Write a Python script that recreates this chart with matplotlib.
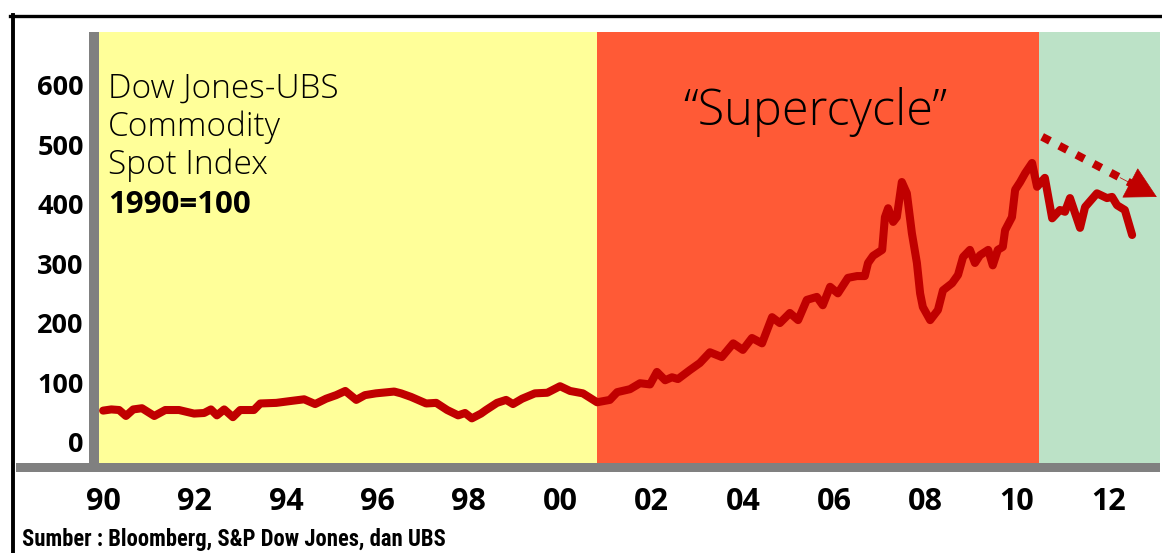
import matplotlib
matplotlib.use("Agg")
import matplotlib.pyplot as plt
from matplotlib.lines import Line2D
from matplotlib.patches import Rectangle

# Dow Jones-UBS Commodity Spot Index
years = [1990.00, 1990.18, 1990.35, 1990.50, 1990.66, 1990.85, 1991.12, 1991.36,
         1991.66, 1991.99, 1992.21, 1992.36, 1992.49, 1992.65, 1992.84, 1993.00,
         1993.30, 1993.44, 1993.79, 1994.09, 1994.40, 1994.64, 1994.88, 1995.10,
         1995.30, 1995.54, 1995.73, 1995.97, 1996.37, 1996.52, 1996.74, 1997.07,
         1997.29, 1997.53, 1997.77, 1997.92, 1998.07, 1998.27, 1998.38, 1998.62,
         1998.82, 1998.97, 1999.17, 1999.45, 1999.72, 2000.00, 2000.22, 2000.50,
         2000.81, 2001.09, 2001.25, 2001.53, 2001.75, 2001.97, 2002.12, 2002.30,
         2002.45, 2002.58, 2002.84, 2003.06, 2003.28, 2003.54, 2003.79, 2004.00,
         2004.20, 2004.42, 2004.64, 2004.81, 2005.03, 2005.21, 2005.40, 2005.62,
         2005.75, 2005.91, 2006.08, 2006.30, 2006.50, 2006.67, 2006.74, 2006.85,
         2007.05, 2007.11, 2007.18, 2007.29, 2007.37, 2007.48, 2007.59, 2007.70,
         2007.81, 2007.88, 2007.94, 2008.10, 2008.27, 2008.38, 2008.58, 2008.71,
         2008.82, 2008.97, 2009.08, 2009.19, 2009.37, 2009.47, 2009.58, 2009.69,
         2009.74, 2009.89, 2009.96, 2010.07, 2010.18, 2010.33, 2010.44, 2010.61,
         2010.77, 2010.94, 2011.05, 2011.16, 2011.38, 2011.49, 2011.75, 2011.97,
         2012.08, 2012.19, 2012.36, 2012.52]
index = [53, 55, 54, 44, 55, 57, 44, 54,
         54, 48, 49, 55, 45, 55, 42, 54,
         54, 65, 66, 69, 72, 64, 73, 79,
         86, 71, 79, 82, 85, 82, 76, 65,
         66, 54, 45, 49, 40, 48, 54, 66,
         71, 64, 73, 82, 83, 94, 86, 82,
         67, 71, 84, 89, 99, 97, 118, 104,
         109, 106, 121, 133, 151, 143, 166, 155,
         175, 166, 210, 200, 217, 205, 239, 244,
         230, 261, 250, 276, 279, 279, 301, 313,
         323, 378, 393, 370, 378, 437, 418, 351,
         301, 250, 227, 205, 222, 255, 267, 281,
         311, 323, 301, 314, 323, 297, 323, 328,
         356, 378, 424, 437, 452, 469, 429, 444,
         376, 390, 387, 410, 360, 395, 418, 410,
         412, 398, 390, 348]

# phases of the commodity cycle
phase_edges = [1989.91, 2000.81, 2010.48, 2013.13]
phase_colors = ["#FFFF99", "#FF5A36", "#BCE2C7"]

x_ticks = list(range(1990, 2013, 2))
x_labels = ["90", "92", "94", "96", "98", "00", "02", "04", "06", "08", "10", "12"]
y_ticks = [0, 100, 200, 300, 400, 500, 600]

# downward trend arrow (start, tip)
arrow_start = (2010.55, 513)
arrow_tip = (2013.06, 412)

W, H = 1162, 553
fig = plt.figure(figsize=(W / 100, H / 100), dpi=100)
fig.patch.set_facecolor("white")


def fx(x):
    return x / W


def fy(y):
    return 1 - y / H


ax = fig.add_axes([fx(99), fy(463), (1160 - 99) / W, (463 - 32) / H])
ax.set_xlim(phase_edges[0], phase_edges[-1])
ax.set_ylim(-35, 689)

for i, c in enumerate(phase_colors):
    ax.axvspan(phase_edges[i], phase_edges[i + 1], color=c, lw=0, zorder=0)

ax.plot(years, index, color="#C00000", lw=5.8, solid_joinstyle="round",
        solid_capstyle="round", zorder=3)

for s in ax.spines.values():
    s.set_visible(False)

bold = ["Open Sans", "DejaVu Sans"]
ax.set_xticks(x_ticks)
ax.set_xticklabels(x_labels, fontsize=22, fontweight="bold", family=bold)
ax.set_yticks(y_ticks)
ax.set_yticklabels([str(v) for v in y_ticks], fontsize=19.5, fontweight="bold",
                   family=bold)
ax.tick_params(axis="x", length=0, pad=17)
ax.tick_params(axis="y", length=0, pad=11)

# trend arrow: dotted shaft + solid head
dx = arrow_tip[0] - arrow_start[0]
dy = arrow_tip[1] - arrow_start[1]
ax.plot([arrow_start[0], arrow_start[0] + dx * 0.78],
        [arrow_start[1], arrow_start[1] + dy * 0.78], color="#C00000",
        lw=5.8, dashes=(1.1, 1.3), dash_capstyle="butt", zorder=4)
ax.annotate("", xy=arrow_tip, xytext=(arrow_start[0] + dx * 0.68, arrow_start[1] + dy * 0.68),
            arrowprops=dict(arrowstyle="-|>,head_length=2.1,head_width=1.15",
                            mutation_scale=10, color="#C00000", lw=0.5,
                            shrinkA=0, shrinkB=0), zorder=4)

light = ["Open Sans", "DejaVu Sans"]
fig.text(fx(108), fy(98), "Dow Jones-UBS", fontsize=24, fontweight="light",
         family=light, va="baseline")
fig.text(fx(108), fy(136), "Commodity", fontsize=24, fontweight="light",
         family=light, va="baseline")
fig.text(fx(108), fy(174), "Spot Index", fontsize=24, fontweight="light",
         family=light, va="baseline")
fig.text(fx(108), fy(213), "1990=100", fontsize=22.5, fontweight="bold",
         family=bold, va="baseline")
fig.text(fx(683), fy(125), "\u201cSupercycle\u201d", fontsize=35, fontweight="light",
         family=light, va="baseline")

fig.text(fx(22), fy(546), "Sumber : Bloomberg, S&P Dow Jones, dan UBS", fontsize=16.3,
         fontweight="bold",
         family=["Liberation Sans Narrow", "Roboto Condensed", "Open Sans"],
         va="baseline")

# grey axis bars and black frame
fig.patches.append(Rectangle((fx(89), fy(463)), 10 / W, (463 - 32) / H,
                             transform=fig.transFigure, color="#808080", lw=0))
fig.patches.append(Rectangle((fx(16), fy(472)), (1160 - 16) / W, 9 / H,
                             transform=fig.transFigure, color="#808080", lw=0))
fig.lines.append(Line2D([fx(10), fx(1162)], [fy(16), fy(16)], color="black", lw=2.4,
                        transform=fig.transFigure))
fig.lines.append(Line2D([fx(13), fx(13)], [fy(15), fy(553)], color="black", lw=2.8,
                        transform=fig.transFigure))

fig.savefig("out.png", dpi=100)
